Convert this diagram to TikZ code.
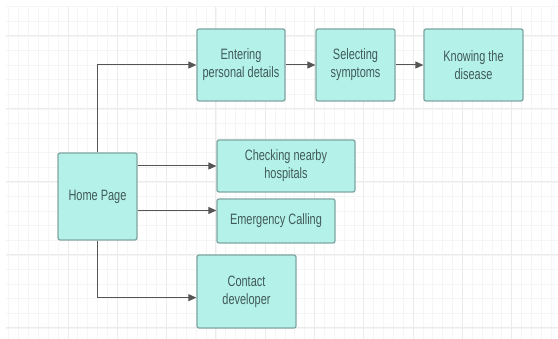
\documentclass[tikz,border=0pt]{standalone}
\usepackage{fontspec}
\setmainfont{Liberation Sans}[FakeStretch=0.73]
\usetikzlibrary{arrows.meta}
\definecolor{boxfill}{HTML}{B4F1E9}
\definecolor{boxline}{HTML}{7FA5A2}
\definecolor{boxtext}{HTML}{405A5A}
\definecolor{arrowcol}{HTML}{555555}
\tikzstyle{page}=[rectangle,rounded corners=2pt,draw=boxline,line width=1.3pt,fill=boxfill,text=boxtext,align=center,font=\fontsize{15}{18}\selectfont,inner sep=0pt]
\tikzstyle{link}=[draw=arrowcol,line width=1pt,-{Triangle[length=8pt,width=7pt]}]

\begin{document}
\begin{tikzpicture}[x=1pt,y=-1pt]
    \useasboundingbox (0,0) rectangle (558,339);
    % grid
    \foreach \k in {-6,...,49} {
      \pgfmathsetmacro{\gx}{68+9.86*\k}
      \draw[gray!8,line width=0.8pt] (\gx,7) -- (\gx,339);
    }
    \foreach \k in {-2,...,20} {
      \pgfmathsetmacro{\gy}{36+14.6*\k}
      \draw[gray!8,line width=0.8pt] (6,\gy) -- (558,\gy);
    }
    \foreach \k in {0,...,9} {
      \pgfmathsetmacro{\gx}{68+49.3*\k}
      \draw[gray!16,line width=1pt] (\gx,7) -- (\gx,339);
    }
    \foreach \k in {0,...,4} {
      \pgfmathsetmacro{\gy}{36+73*\k}
      \draw[gray!16,line width=1pt] (6,\gy) -- (558,\gy);
    }

    \node (home)    at (97.5,196.5) [page,minimum width=79pt,minimum height=87pt] {Home Page};
    \node (enter)   at (241,65)     [page,minimum width=88pt,minimum height=72pt] {Entering\\personal details};
    \node (select)  at (355.5,65)   [page,minimum width=79pt,minimum height=72pt] {Selecting\\symptoms};
    \node (know)    at (473.5,65)   [page,minimum width=99pt,minimum height=72pt] {Knowing the\\disease};
    \node (check)   at (286,166)    [page,minimum width=138pt,minimum height=52pt] {Checking nearby\\hospitals};
    \node (emerg)   at (276,221)    [page,minimum width=118pt,minimum height=44pt] {Emergency Calling};
    \node (contact) at (246.5,291.5) [page,minimum width=99pt,minimum height=73pt] {Contact\\developer};

    \draw[link] (home.north) |- (enter.west);
    \draw[link] (enter) -- (select);
    \draw[link] (select) -- (know);
    \draw[link] (home.east |- check.west) -- (check.west);
    \draw[link] (home.east |- emerg.170) -- (emerg.170);
    \draw[link] (home.south) |- (contact.187);
\end{tikzpicture}
\end{document}
